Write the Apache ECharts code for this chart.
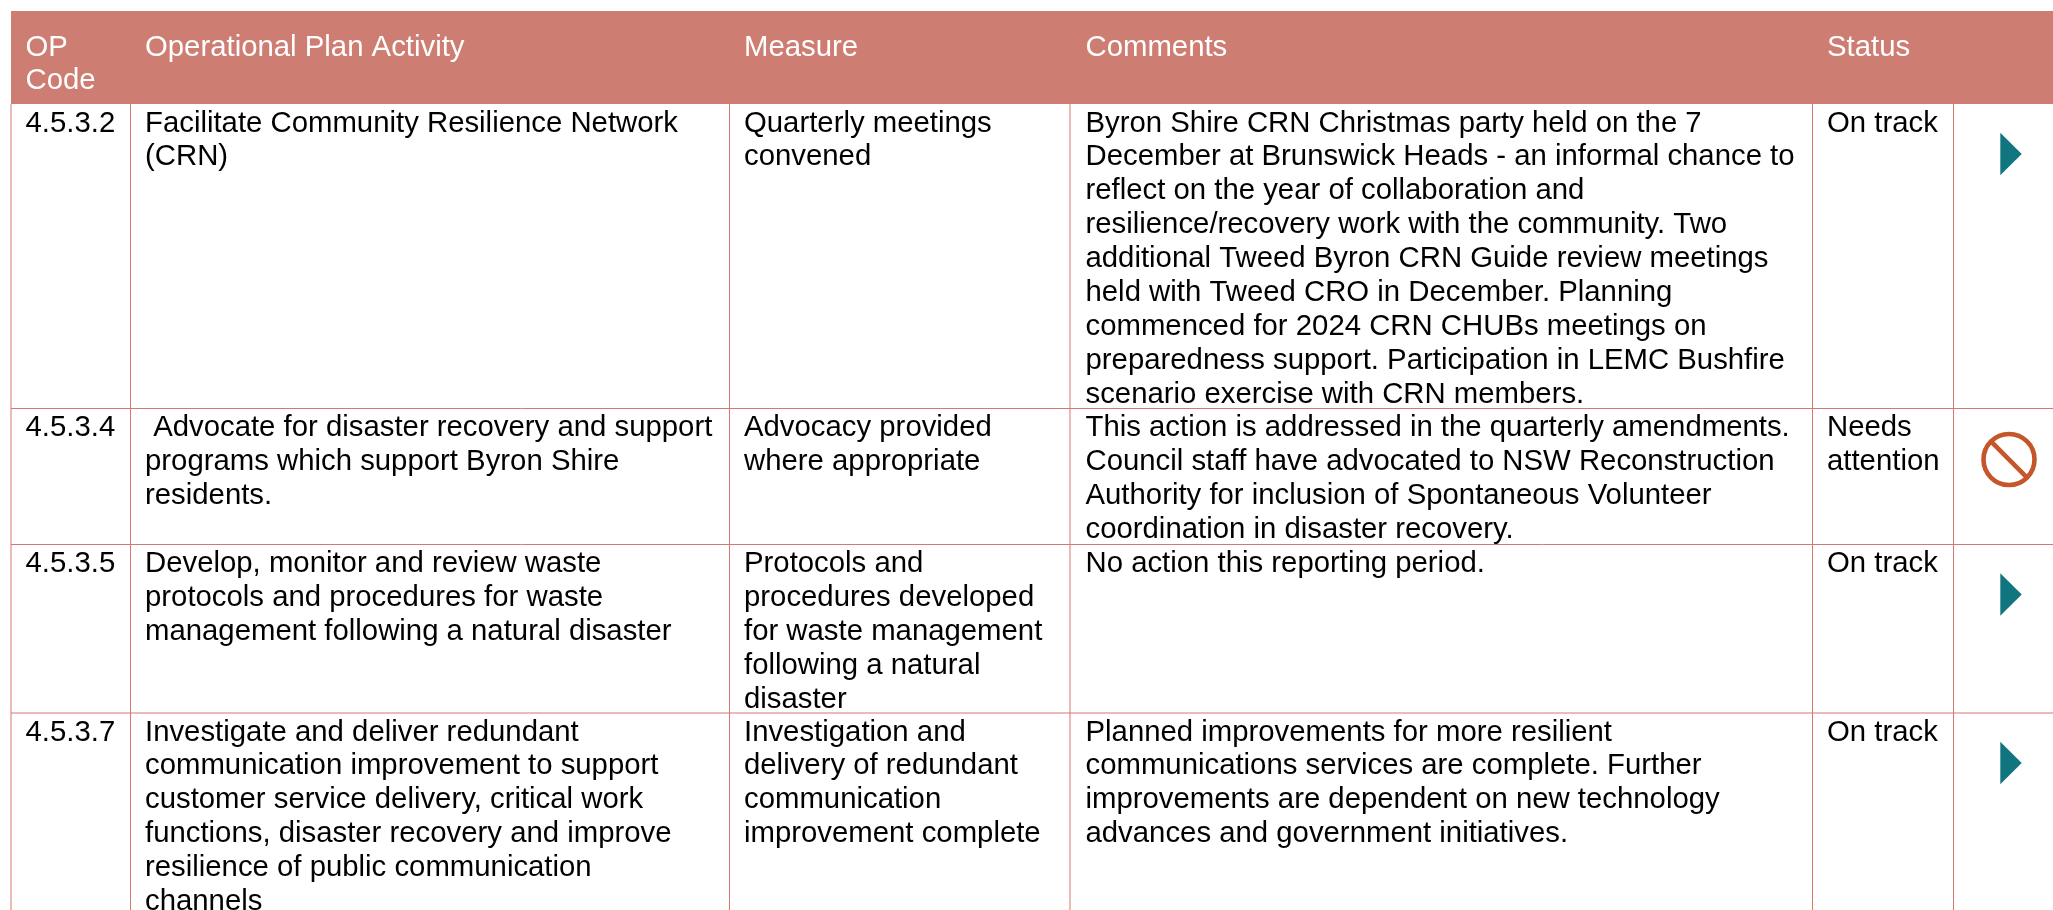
<!DOCTYPE html>
<html>
<head>
<meta charset="utf-8">
<style>
html, body { margin: 0; padding: 0; background: #fff; }
#main { width: 2053px; height: 910px; }
</style>
<script src="https://cdn.jsdelivr.net/npm/echarts@6/dist/echarts.min.js"></script>
</head>
<body>
<div id="main"></div>
<script>
const headers = ["OP\nCode", "Operational Plan Activity", "Measure", "Comments", "Status"];
const opCodes = ["4.5.3.2", "4.5.3.4", "4.5.3.5", "4.5.3.7"];
const activities = [
    "Facilitate Community Resilience Network\n(CRN)",
    " Advocate for disaster recovery and support\nprograms which support Byron Shire\nresidents.",
    "Develop, monitor and review waste\nprotocols and procedures for waste\nmanagement following a natural disaster",
    "Investigate and deliver redundant\ncommunication improvement to support\ncustomer service delivery, critical work\nfunctions, disaster recovery and improve\nresilience of public communication\nchannels"
];
const measures = [
    "Quarterly meetings\nconvened",
    "Advocacy provided\nwhere appropriate",
    "Protocols and\nprocedures developed\nfor waste management\nfollowing a natural\ndisaster",
    "Investigation and\ndelivery of redundant\ncommunication\nimprovement complete"
];
const comments = [
    "Byron Shire CRN Christmas party held on the 7\nDecember at Brunswick Heads - an informal chance to\nreflect on the year of collaboration and\nresilience/recovery work with the community. Two\nadditional Tweed Byron CRN Guide review meetings\nheld with Tweed CRO in December. Planning\ncommenced for 2024 CRN CHUBs meetings on\npreparedness support. Participation in LEMC Bushfire\nscenario exercise with CRN members.",
    "This action is addressed in the quarterly amendments.\nCouncil staff have advocated to NSW Reconstruction\nAuthority for inclusion of Spontaneous Volunteer\ncoordination in disaster recovery.",
    "No action this reporting period.",
    "Planned improvements for more resilient\ncommunications services are complete. Further\nimprovements are dependent on new technology\nadvances and government initiatives."
];
const statuses = ["On track", "Needs\nattention", "On track", "On track"];

// table layout, in page pixels
const columnEdges = [11, 130.5, 729.5, 1070, 1812.5, 1953.5, 2053];
const rowEdges = [11, 104, 408.5, 544.5, 713, 910];
const textInset = [14.5, 14.5, 14.5, 15.5, 14.5];
const lineGap = 33.9;
const headerGap = 33;
const fontSize = 29.33;

const headerColor = "#ce7d72";
const ruleColor = "#d3796e";
const onTrackColor = "#10757f";
const attentionColor = "#c5562a";

const bodyColumns = [opCodes, activities, measures, comments, statuses];

function textBlock(api, text, x, top, gap, color) {
    return text.split("\n").map((line, i) => {
        let p = api.coord([x, top + i * gap]);
        return {
            type: "text",
            silent: true,
            style: {
                x: p[0],
                y: p[1],
                text: line,
                fill: color,
                font: fontSize + "px 'Liberation Sans', Arial, sans-serif",
                textAlign: "left",
                textBaseline: "middle",
                verticalAlign: "middle"
            }
        };
    });
}

function renderBand(params, api) {
    let a = api.coord([columnEdges[0], rowEdges[0]]);
    let b = api.coord([columnEdges[columnEdges.length - 1], rowEdges[1]]);
    return {
        type: "rect",
        shape: { x: a[0], y: a[1], width: b[0] - a[0], height: b[1] - a[1] },
        style: { fill: headerColor }
    };
}

function renderRules(params, api) {
    let children = [];
    let right = columnEdges[columnEdges.length - 1];
    let bottom = rowEdges[rowEdges.length - 1];
    columnEdges.slice(0, -1).forEach(x => {
        let a = api.coord([x, rowEdges[1]]);
        let b = api.coord([x, bottom]);
        children.push({
            type: "line",
            shape: { x1: a[0], y1: a[1], x2: b[0], y2: b[1] },
            style: { stroke: ruleColor, lineWidth: 1 }
        });
    });
    rowEdges.slice(2, -1).forEach(y => {
        let a = api.coord([columnEdges[0], y]);
        let b = api.coord([right, y]);
        children.push({
            type: "line",
            shape: { x1: a[0], y1: a[1], x2: b[0], y2: b[1] },
            style: { stroke: ruleColor, lineWidth: 1 }
        });
    });
    return { type: "group", children };
}

function renderHeader(params, api) {
    let col = api.value(0);
    return {
        type: "group",
        children: textBlock(api, headers[col], columnEdges[col] + textInset[col], 47.8, headerGap, "#ffffff")
    };
}

function renderCell(params, api) {
    let col = api.value(0);
    let row = api.value(1);
    let top = rowEdges[row + 1] + 19.5;
    return {
        type: "group",
        children: textBlock(api, bodyColumns[col][row], columnEdges[col] + textInset[col], top, lineGap, "#000000")
    };
}

function renderStatus(params, api) {
    let row = api.value(0);
    let top = rowEdges[row + 1];
    if (statuses[row] === "On track") {
        let p1 = api.coord([2000.3, top + 28.7]);
        let p2 = api.coord([2021.7, top + 50]);
        let p3 = api.coord([2000.3, top + 71.3]);
        return {
            type: "polygon",
            shape: { points: [p1, p2, p3] },
            style: { fill: onTrackColor }
        };
    }
    let c = api.coord([2009, top + 51]);
    let r = 25.5;
    let d = r * Math.SQRT1_2;
    return {
        type: "group",
        children: [
            {
                type: "circle",
                shape: { cx: c[0], cy: c[1], r },
                style: { fill: "none", stroke: attentionColor, lineWidth: 4.6 }
            },
            {
                type: "line",
                shape: { x1: c[0] - d, y1: c[1] - d, x2: c[0] + d, y2: c[1] + d },
                style: { stroke: attentionColor, lineWidth: 4.6 }
            }
        ]
    };
}

let cellData = [];
bodyColumns.forEach((column, col) => {
    column.forEach((value, row) => cellData.push([col, row]));
});

let chart = echarts.init(document.getElementById("main"), null, { renderer: "canvas" });
chart.setOption({
    animation: false,
    backgroundColor: "#ffffff",
    tooltip: { show: false },
    grid: { left: 0, right: 0, top: 0, bottom: 0 },
    xAxis: { type: "value", min: 0, max: 2053, show: false },
    yAxis: { type: "value", min: 0, max: 910, inverse: true, show: false },
    series: [
        { type: "custom", silent: true, renderItem: renderBand, data: [[0, 0]] },
        { type: "custom", silent: true, renderItem: renderRules, data: [[0, 0]] },
        { type: "custom", silent: true, renderItem: renderHeader, data: headers.map((h, i) => [i, 0]) },
        { type: "custom", silent: true, renderItem: renderCell, data: cellData },
        { type: "custom", silent: true, renderItem: renderStatus, data: statuses.map((s, i) => [i, 0]) }
    ]
});
</script>
</body>
</html>
